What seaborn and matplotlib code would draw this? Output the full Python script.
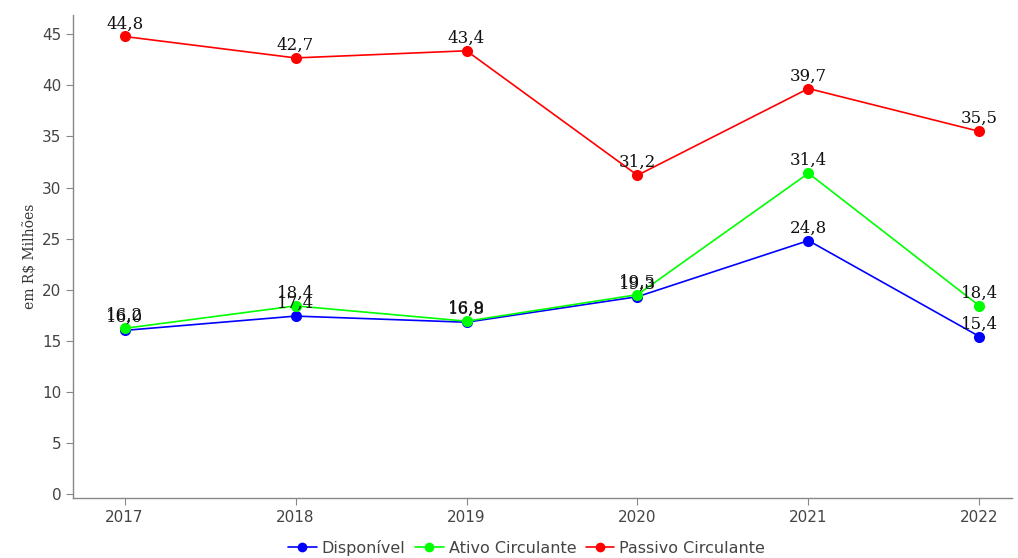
import matplotlib
matplotlib.use("Agg")
import matplotlib.pyplot as plt
import seaborn as sns
import pandas as pd

anos = ["2017", "2018", "2019", "2020", "2021", "2022"]
disponivel = [16.0, 17.4, 16.8, 19.3, 24.8, 15.4]
ativo_circulante = [16.2, 18.4, 16.9, 19.5, 31.4, 18.4]
passivo_circulante = [44.8, 42.7, 43.4, 31.2, 39.7, 35.5]

series_nomes = ["Disponível", "Ativo Circulante", "Passivo Circulante"]
cores = ["#0000ff", "#00ff00", "#ff0000"]

df = pd.DataFrame({
    "Ano": anos * 3,
    "Valor": disponivel + ativo_circulante + passivo_circulante,
    "Série": [s for s in series_nomes for _ in anos],
})
df["pos"] = df["Ano"].map({a: i for i, a in enumerate(anos)})

sns.set_style("ticks")
plt.rcParams["font.family"] = ["DejaVu Sans"]

fig = plt.figure(figsize=(10.18, 5.58), dpi=100)
ax = fig.add_axes([0.072, 0.108, 0.922, 0.865])

sns.lineplot(data=df, x="pos", y="Valor", hue="Série", hue_order=series_nomes,
             palette=cores, marker="o", markersize=8, markeredgewidth=0,
             linewidth=1.2, ax=ax, legend=True)

for _, row in df.iterrows():
    ax.annotate(f"{row['Valor']:.1f}".replace(".", ","), (row["pos"], row["Valor"]),
                xytext=(0, 3), textcoords="offset points", ha="center", va="bottom",
                fontsize=12, family="DejaVu Serif", color="#111111")

ax.set_xlim(-0.3, 5.19)
ax.set_ylim(-0.4, 46.9)
ax.set_xticks(range(len(anos)))
ax.set_xticklabels(anos)
ax.set_yticks(range(0, 50, 5))
ax.set_xlabel("")
ax.set_ylabel("em R$ Milhões", family="DejaVu Serif", fontsize=10, color="#333333")
sns.despine(ax=ax)
for sp in ["left", "bottom"]:
    ax.spines[sp].set_color("#888888")
    ax.spines[sp].set_linewidth(1.0)
ax.tick_params(axis="both", colors="#888888", labelcolor="#444444", labelsize=11, length=5)

handles, labels = ax.get_legend_handles_labels()
for h in handles:
    h.set_markersize(7)
ax.legend(handles, labels, loc="center", bbox_to_anchor=(0.483, -0.104), ncol=3,
          frameon=False, fontsize=11.5, handlelength=1.8, handletextpad=0.3,
          columnspacing=0.6, labelcolor="#444444", borderpad=0.1)

fig.savefig("out.png", dpi=100)
